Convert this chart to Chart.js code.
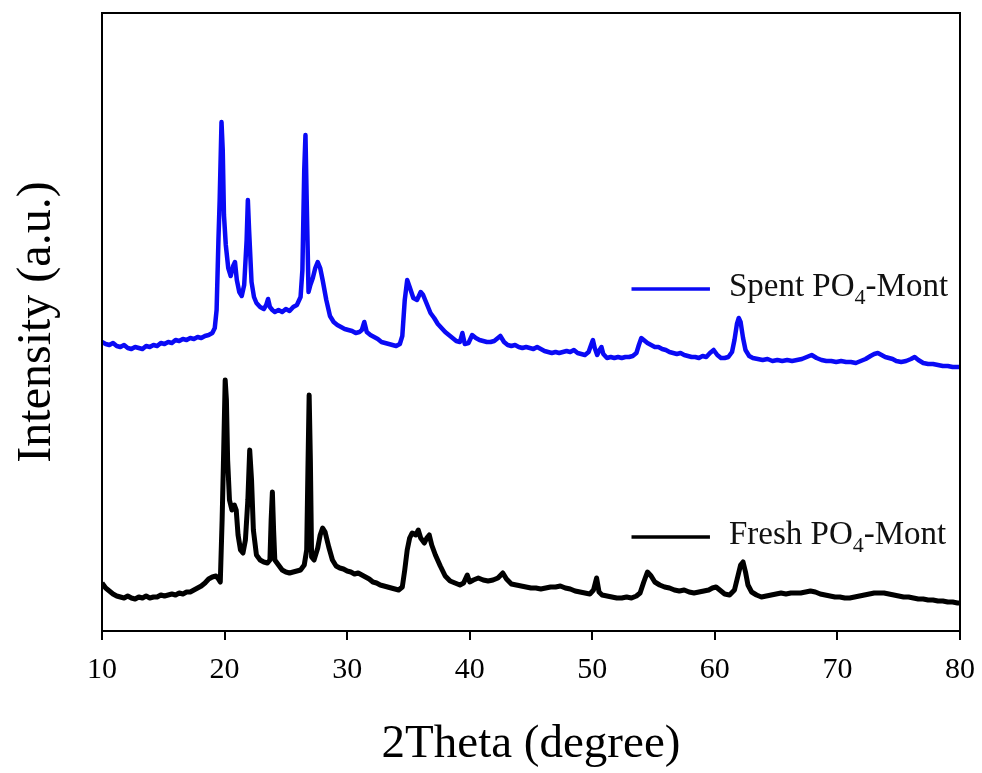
<!DOCTYPE html>
<html>
<head>
<meta charset="utf-8">
<script src="https://cdn.jsdelivr.net/npm/chart.js@4.4.1/dist/chart.umd.min.js"></script>
<style>
  html, body { margin: 0; padding: 0; background: #fff; }
</style>
</head>
<body>
<canvas id="xrd" width="982" height="773"></canvas>
<script>
// XRD patterns, [2theta, intensity (a.u.)]
const spentPattern = [
  [10.0, 289], [10.3, 287], [10.6, 286], [10.9, 288], [11.2, 285], [11.5, 284], [11.8, 286], [12.1, 283],
  [12.4, 282], [12.7, 284], [13.0, 283], [13.3, 282], [13.6, 285], [13.9, 284], [14.2, 286], [14.5, 285],
  [14.8, 288], [15.1, 287], [15.4, 289], [15.7, 288], [16.0, 291], [16.3, 290], [16.6, 292], [16.9, 291],
  [17.2, 293], [17.5, 292], [17.8, 294], [18.1, 293], [18.4, 295], [18.7, 296], [19.0, 298], [19.2, 303],
  [19.35, 321], [19.5, 391], [19.6, 431], [19.75, 509], [19.85, 481], [19.95, 416], [20.1, 386], [20.3, 363],
  [20.5, 355], [20.7, 365], [20.85, 369], [21.0, 351], [21.2, 339], [21.4, 335], [21.6, 346], [21.8, 391],
  [21.9, 431], [22.0, 401], [22.2, 349], [22.4, 334], [22.6, 328], [22.9, 324], [23.2, 322], [23.4, 326],
  [23.55, 332], [23.7, 324], [23.9, 321], [24.1, 319], [24.4, 321], [24.7, 319], [25.0, 322], [25.3, 320],
  [25.6, 324], [25.9, 326], [26.2, 334], [26.35, 361], [26.5, 461], [26.6, 496], [26.7, 431], [26.85, 339],
  [27.0, 346], [27.2, 353], [27.4, 363], [27.6, 369], [27.8, 363], [28.0, 351], [28.3, 331], [28.6, 315],
  [28.9, 309], [29.2, 306], [29.5, 304], [29.8, 302], [30.1, 301], [30.4, 300], [30.7, 298], [31.0, 299],
  [31.2, 301], [31.4, 309], [31.6, 299], [31.9, 296], [32.2, 294], [32.5, 292], [32.8, 289], [33.1, 288],
  [33.4, 287], [33.7, 286], [34.0, 285], [34.3, 287], [34.5, 295], [34.7, 331], [34.9, 351], [35.1, 344],
  [35.4, 333], [35.7, 331], [36.0, 339], [36.2, 336], [36.5, 327], [36.8, 318], [37.1, 313], [37.4, 307],
  [37.7, 303], [38.0, 299], [38.3, 296], [38.6, 293], [38.9, 290], [39.2, 289], [39.4, 298], [39.6, 287],
  [39.9, 288], [40.2, 296], [40.5, 293], [40.8, 291], [41.1, 290], [41.4, 289], [41.7, 289], [42.0, 290],
  [42.3, 293], [42.5, 295], [42.8, 289], [43.1, 286], [43.4, 285], [43.7, 286], [44.0, 284], [44.3, 283],
  [44.6, 284], [44.9, 283], [45.2, 282], [45.5, 284], [45.8, 282], [46.1, 280], [46.4, 279], [46.7, 278],
  [47.0, 279], [47.3, 278], [47.6, 279], [47.9, 280], [48.2, 279], [48.5, 281], [48.8, 278], [49.1, 277],
  [49.4, 276], [49.7, 279], [49.9, 286], [50.05, 291], [50.2, 283], [50.4, 276], [50.6, 281], [50.75, 284],
  [50.9, 277], [51.2, 273], [51.5, 274], [51.8, 273], [52.1, 274], [52.4, 273], [52.7, 274], [53.0, 274],
  [53.3, 275], [53.6, 278], [53.8, 286], [54.0, 293], [54.2, 291], [54.5, 288], [54.8, 286], [55.1, 284],
  [55.4, 284], [55.7, 282], [56.0, 281], [56.3, 279], [56.6, 278], [56.9, 277], [57.2, 278], [57.5, 276],
  [57.8, 275], [58.1, 274], [58.4, 274], [58.7, 273], [59.0, 275], [59.3, 274], [59.6, 278], [59.9, 281],
  [60.2, 276], [60.5, 273], [60.8, 273], [61.1, 274], [61.4, 279], [61.6, 291], [61.8, 307], [61.95, 313],
  [62.1, 309], [62.3, 293], [62.5, 281], [62.8, 275], [63.1, 273], [63.5, 272], [63.9, 271], [64.3, 272],
  [64.7, 270], [65.1, 271], [65.5, 270], [65.9, 271], [66.3, 270], [66.7, 271], [67.1, 272], [67.5, 274],
  [67.9, 276], [68.3, 273], [68.7, 271], [69.1, 270], [69.5, 270], [69.9, 269], [70.3, 270], [70.7, 269],
  [71.1, 269], [71.5, 268], [71.9, 270], [72.3, 272], [72.7, 275], [73.0, 277], [73.3, 278], [73.6, 276],
  [73.9, 274], [74.2, 273], [74.5, 272], [74.8, 270], [75.2, 269], [75.6, 270], [76.0, 272], [76.3, 274],
  [76.6, 271], [77.0, 268], [77.4, 267], [77.8, 267], [78.2, 266], [78.6, 265], [79.0, 265], [79.4, 264],
  [79.8, 264], [80.0, 264]
];

const freshPattern = [
  [10.0, 48], [10.3, 43], [10.6, 40], [10.9, 37], [11.2, 35], [11.5, 34], [11.8, 33], [12.1, 35],
  [12.4, 33], [12.7, 32], [13.0, 34], [13.3, 33], [13.6, 35], [13.9, 33], [14.2, 34], [14.5, 34],
  [14.8, 36], [15.1, 35], [15.4, 36], [15.7, 37], [16.0, 36], [16.3, 38], [16.6, 37], [16.9, 39],
  [17.2, 39], [17.5, 41], [17.8, 43], [18.1, 45], [18.4, 48], [18.7, 52], [19.0, 54], [19.3, 55],
  [19.5, 52], [19.65, 49], [19.8, 111], [19.9, 164], [20.05, 251], [20.15, 231], [20.25, 171], [20.4, 131],
  [20.6, 121], [20.8, 126], [20.95, 121], [21.1, 96], [21.3, 81], [21.5, 78], [21.7, 91], [21.9, 131],
  [22.05, 181], [22.2, 151], [22.35, 101], [22.6, 76], [22.9, 71], [23.2, 69], [23.5, 68], [23.7, 71],
  [23.8, 111], [23.9, 139], [24.0, 101], [24.1, 71], [24.4, 66], [24.7, 61], [25.0, 59], [25.3, 58],
  [25.6, 59], [25.9, 60], [26.2, 61], [26.5, 66], [26.7, 81], [26.8, 161], [26.9, 236], [27.0, 171],
  [27.1, 74], [27.3, 71], [27.6, 83], [27.8, 96], [28.0, 103], [28.2, 99], [28.5, 84], [28.8, 71],
  [29.1, 65], [29.4, 63], [29.7, 62], [30.0, 60], [30.3, 59], [30.6, 57], [30.9, 58], [31.2, 56],
  [31.5, 54], [31.8, 52], [32.1, 49], [32.4, 48], [32.7, 46], [33.0, 45], [33.3, 44], [33.6, 43],
  [33.9, 42], [34.2, 41], [34.5, 44], [34.7, 61], [34.9, 81], [35.1, 93], [35.3, 98], [35.6, 96],
  [35.8, 101], [36.0, 93], [36.3, 88], [36.5, 93], [36.7, 96], [36.9, 86], [37.2, 76], [37.6, 65],
  [38.0, 55], [38.4, 50], [38.8, 48], [39.2, 46], [39.5, 48], [39.8, 56], [40.0, 49], [40.3, 51],
  [40.7, 53], [41.1, 51], [41.5, 50], [41.9, 51], [42.3, 53], [42.7, 58], [43.0, 52], [43.4, 47],
  [43.8, 46], [44.2, 45], [44.6, 44], [45.0, 43], [45.4, 43], [45.8, 42], [46.2, 43], [46.6, 44],
  [47.0, 44], [47.4, 45], [47.8, 43], [48.2, 42], [48.6, 40], [49.0, 39], [49.4, 38], [49.8, 37],
  [50.1, 41], [50.35, 53], [50.55, 39], [50.8, 36], [51.2, 35], [51.6, 34], [52.0, 33], [52.4, 33],
  [52.8, 34], [53.2, 33], [53.6, 35], [53.9, 38], [54.2, 49], [54.5, 59], [54.8, 55], [55.1, 49],
  [55.5, 46], [55.9, 44], [56.3, 43], [56.7, 41], [57.1, 40], [57.5, 41], [57.9, 39], [58.3, 38],
  [58.7, 39], [59.1, 40], [59.5, 41], [59.8, 43], [60.1, 44], [60.4, 41], [60.8, 37], [61.2, 36],
  [61.6, 41], [61.9, 56], [62.1, 66], [62.3, 69], [62.5, 59], [62.7, 46], [63.0, 39], [63.4, 36],
  [63.8, 34], [64.2, 35], [64.6, 36], [65.0, 37], [65.4, 38], [65.8, 37], [66.2, 38], [66.6, 38],
  [67.0, 38], [67.4, 39], [67.8, 40], [68.2, 39], [68.6, 37], [69.0, 36], [69.4, 35], [69.8, 34],
  [70.2, 34], [70.6, 33], [71.0, 33], [71.4, 34], [71.8, 35], [72.2, 36], [72.6, 37], [73.0, 38],
  [73.4, 38], [73.8, 38], [74.2, 37], [74.6, 36], [75.0, 35], [75.4, 34], [75.8, 34], [76.2, 33],
  [76.6, 32], [77.0, 32], [77.4, 31], [77.8, 31], [78.2, 30], [78.6, 30], [79.0, 29], [79.4, 29],
  [79.8, 28], [80.0, 28]
];

const xTicks = [10, 20, 30, 40, 50, 60, 70, 80];
const seriesNames = ["Spent PO", "Fresh PO"];
const seriesColors = ["#0a0af5", "#000000"];
// legend key anchor: [2theta start, 2theta end, intensity level]
const legendKeys = [[53.2, 59.6, 342], [53.2, 59.6, 94]];

const serif = '"Liberation Serif", "Times New Roman", serif';

const frame = {
  id: "frame",
  afterDatasetsDraw(chart) {
    const { ctx, chartArea: a } = chart;
    ctx.save();
    ctx.strokeStyle = "#000";
    ctx.lineWidth = 2;
    ctx.strokeRect(a.left, a.top, a.right - a.left, a.bottom - a.top);
    ctx.restore();
  }
};

const sideLegend = {
  id: "sideLegend",
  afterDatasetsDraw(chart) {
    const ctx = chart.ctx;
    const xs = chart.scales.x, ys = chart.scales.y;
    ctx.save();
    legendKeys.forEach((k, i) => {
      const x0 = xs.getPixelForValue(k[0]);
      const x1 = xs.getPixelForValue(k[1]);
      const y = ys.getPixelForValue(k[2]);
      ctx.strokeStyle = seriesColors[i];
      ctx.lineWidth = 3.5;
      ctx.beginPath();
      ctx.moveTo(x0, y);
      ctx.lineTo(x1, y);
      ctx.stroke();

      let tx = x1 + 19;
      const base = y + 7;
      ctx.fillStyle = "#111";
      ctx.textBaseline = "alphabetic";
      ctx.font = "33px " + serif;
      ctx.fillText(seriesNames[i], tx, base);
      tx += ctx.measureText(seriesNames[i]).width;
      ctx.font = "22px " + serif;
      ctx.fillText("4", tx, base + 8);
      tx += ctx.measureText("4").width;
      ctx.font = "33px " + serif;
      ctx.fillText("-Mont", tx, base);
    });
    ctx.restore();
  }
};

const toPoints = (arr) => arr.map(p => ({ x: p[0], y: p[1] }));

new Chart(document.getElementById("xrd").getContext("2d"), {
  type: "line",
  data: {
    datasets: [
      {
        label: "Spent PO4-Mont",
        data: toPoints(spentPattern),
        borderColor: seriesColors[0],
        borderWidth: 4.5,
        pointRadius: 0,
        tension: 0,
        borderJoinStyle: "round"
      },
      {
        label: "Fresh PO4-Mont",
        data: toPoints(freshPattern),
        borderColor: seriesColors[1],
        borderWidth: 5,
        pointRadius: 0,
        tension: 0,
        borderJoinStyle: "round"
      }
    ]
  },
  options: {
    responsive: false,
    animation: false,
    layout: { padding: { top: 13, right: 22, left: 0, bottom: 0 } },
    plugins: {
      legend: { display: false },
      tooltip: { enabled: false }
    },
    scales: {
      x: {
        type: "linear",
        min: 10,
        max: 80,
        afterBuildTicks: (s) => { s.ticks = xTicks.map(v => ({ value: v })); },
        afterFit: (s) => { s.height = 142; s.paddingLeft = 0; s.paddingRight = 0; },
        ticks: { color: "#000", padding: 12, font: { family: serif, size: 30 } },
        grid: { drawOnChartArea: false, drawTicks: true, tickLength: 9, color: "#000", lineWidth: 2 },
        border: { display: true, color: "#000", width: 2 },
        title: {
          display: true,
          text: "2Theta (degree)",
          color: "#000",
          font: { family: serif, size: 47 },
          padding: { top: 0, bottom: 0 }
        }
      },
      y: {
        min: 0,
        max: 618,
        afterFit: (s) => { s.width = 102; },
        ticks: { display: false },
        grid: { display: false, drawTicks: false },
        border: { display: true, color: "#000", width: 2 },
        title: {
          display: true,
          text: "Intensity (a.u.)",
          color: "#000",
          font: { family: serif, size: 48 },
          padding: { top: 9, bottom: 0 }
        }
      }
    }
  },
  plugins: [frame, sideLegend]
});
</script>
</body>
</html>
